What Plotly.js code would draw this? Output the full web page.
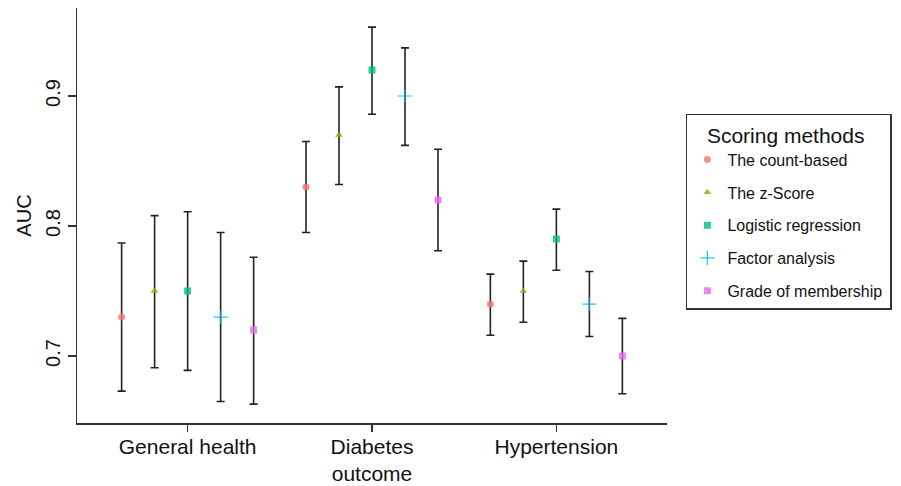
<!DOCTYPE html>
<html>
<head>
<meta charset="utf-8">
<script src="https://cdn.plot.ly/plotly-3.0.1.min.js"></script>
<style>html,body{margin:0;padding:0;background:#fff;}#chart{width:901px;height:486px;}</style>
</head>
<body>
<div id="chart"></div>
<script>
const categories = ["General health", "Diabetes<br>outcome", "Hypertension"];
const methods = ["The count-based", "The z-Score", "Logistic regression", "Factor analysis", "Grade of membership"];
const colors = ["#F8766D", "#A3A500", "#00BF7D", "#00B0F6", "#E76BF3"];
const symbols = ["circle", "triangle-up", "square", "cross-thin", "square-x"];

// AUC point estimates per method across categories
const auc_count    = [0.73, 0.83, 0.74];
const auc_zscore   = [0.75, 0.87, 0.75];
const auc_logistic = [0.75, 0.92, 0.79];
const auc_factor   = [0.73, 0.90, 0.74];
const auc_gom      = [0.72, 0.82, 0.70];

// upper CI bounds
const up_count    = [0.787, 0.865, 0.763];
const up_zscore   = [0.808, 0.907, 0.773];
const up_logistic = [0.811, 0.953, 0.813];
const up_factor   = [0.795, 0.937, 0.765];
const up_gom      = [0.776, 0.859, 0.729];

// lower CI bounds
const lo_count    = [0.673, 0.795, 0.716];
const lo_zscore   = [0.691, 0.832, 0.726];
const lo_logistic = [0.689, 0.886, 0.766];
const lo_factor   = [0.665, 0.862, 0.715];
const lo_gom      = [0.663, 0.781, 0.671];

const values = [auc_count, auc_zscore, auc_logistic, auc_factor, auc_gom];
const uppers = [up_count, up_zscore, up_logistic, up_factor, up_gom];
const lowers = [lo_count, lo_zscore, lo_logistic, lo_factor, lo_gom];

const dodge = 0.179;
const traces = methods.map((m, i) => {
  const xs = categories.map((c, j) => j + (i - 2) * dodge);
  return {
    type: "scatter",
    mode: "markers",
    name: m,
    legendgroup: "g" + i,
    x: xs,
    y: values[i],
    marker: {
      color: colors[i],
      symbol: symbols[i],
      size: symbols[i] === "cross-thin" ? 10 : 7,
      opacity: 0.8,
      line: symbols[i] === "cross-thin" ? {color: colors[i], width: 1.2} : {width: 0}
    },
    error_y: {
      type: "data",
      symmetric: false,
      array: values[i].map((v, j) => uppers[i][j] - v),
      arrayminus: values[i].map((v, j) => v - lowers[i][j]),
      color: "#222",
      thickness: 1.6,
      width: 4
    }
  };
});

const layout = {
  width: 901,
  height: 486,
  margin: {l: 77, r: 234, t: 8, b: 63},
  paper_bgcolor: "#fff",
  plot_bgcolor: "#fff",
  font: {family: "Liberation Sans, Arial, sans-serif", color: "#111"},
  showlegend: true,
  legend: {
    x: 1.032, y: 0.745, xanchor: "left", yanchor: "top",
    bordercolor: "#333", borderwidth: 1.5,
    title: {text: "\u00a0\u00a0\u00a0Scoring methods\u00a0\u00a0\u00a0\u00a0", font: {size: 21, color: "#111"}},
    font: {size: 16, color: "#111"},
    traceorder: "grouped",
    tracegroupgap: 9,
    itemwidth: 30
  },
  xaxis: {
    range: [-0.6, 2.6],
    tickvals: [0, 1, 2],
    ticktext: categories,
    showgrid: false,
    zeroline: false,
    showline: true,
    linecolor: "#333",
    linewidth: 1.5,
    ticks: "outside",
    ticklen: 7,
    tickwidth: 1.3,
    tickcolor: "#333",
    ticklabelstandoff: -3,
    tickfont: {size: 21, color: "#111"}
  },
  yaxis: {
    range: [0.6485, 0.9677],
    tickvals: [0.7, 0.8, 0.9],
    ticktext: ["0.7", "0.8", "0.9"],
    tickangle: -90,
    showgrid: false,
    zeroline: false,
    showline: true,
    linecolor: "#333",
    linewidth: 1.5,
    ticks: "outside",
    ticklen: 8,
    tickwidth: 1.3,
    tickcolor: "#333",
    tickfont: {size: 20, color: "#111"},
    title: {text: "AUC", font: {size: 20, color: "#111"}, standoff: 4}
  }
};

Plotly.newPlot("chart", traces, layout, {displayModeBar: false, staticPlot: true});
</script>
</body>
</html>
